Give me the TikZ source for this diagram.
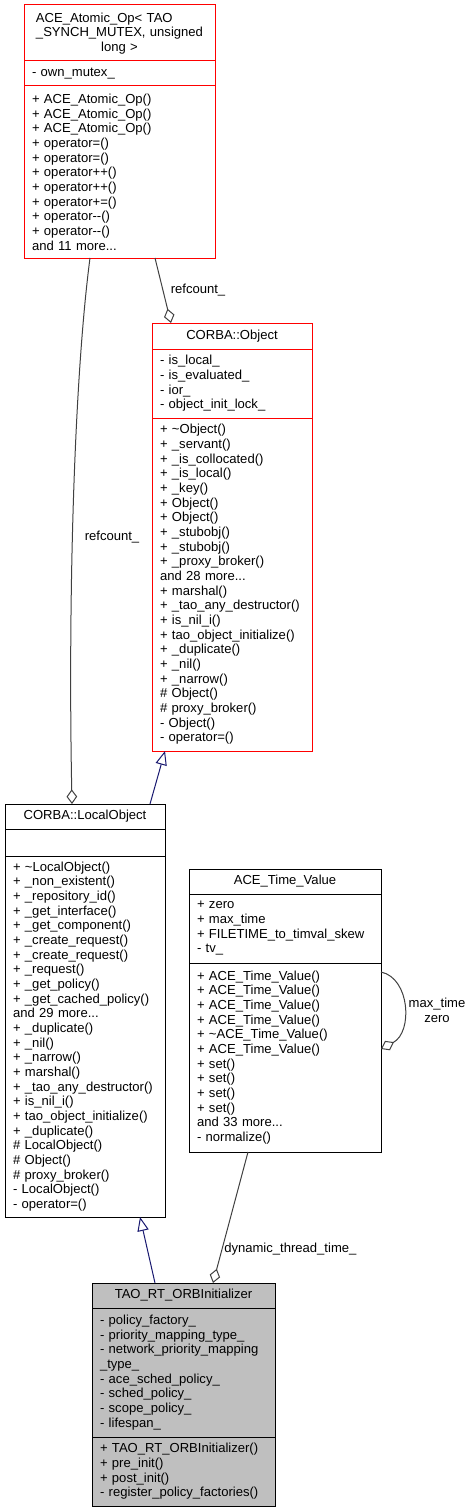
\documentclass[tikz,border=0pt]{standalone}
\usepackage{fontspec}
\setmainfont{Liberation Sans}
\usetikzlibrary{arrows.meta, positioning, calc}
\definecolor{umlRed}{HTML}{FF0000}
\definecolor{edgeGrey}{HTML}{404040}
\definecolor{inhBlue}{HTML}{191970}
\definecolor{focusGrey}{HTML}{BFBFBF}

\begin{document}
\begin{tikzpicture}[x=0.75pt, y=-0.75pt,
  part/.style={draw, line width=0.75pt, outer sep=0pt, inner xsep=6pt, inner ysep=0pt, font=\fontsize{9.8}{11}\selectfont},
  head/.style={part, anchor=north, align=center},
  members/.style={part, align=left},
  lbl/.style={inner sep=0pt, font=\fontsize{9.8}{11}\selectfont},
  aggr/.style={draw=edgeGrey, line width=0.75pt, -{Diamond[open, length=11pt, width=8pt]}},
  inh/.style={draw=inhBlue, line width=0.75pt, -{Triangle[open, length=10.5pt, width=8.5pt]}}]
\useasboundingbox (0,0) rectangle (472,1512);

% ACE_Atomic_Op
\node[head, draw=umlRed, text width=131.25pt, minimum height=42pt] (ato) at (119.5,5) {\begin{tabular}[b]{@{}l@{}}ACE\_Atomic\_Op< TAO\\ \_SYNCH\_MUTEX, unsigned\end{tabular}\\ long >};
\node[members, draw=umlRed, text width=131.25pt, minimum height=18.75pt, below=0pt of ato] (ato-a) {- own\_mutex\_};
\node[members, draw=umlRed, text width=131.25pt, minimum height=129pt, below=0pt of ato-a] (ato-m) {+ ACE\_Atomic\_Op()\\ + ACE\_Atomic\_Op()\\ + ACE\_Atomic\_Op()\\ + operator=()\\ + operator=()\\ + operator++()\\ + operator++()\\ + operator+=()\\ + operator-{}-()\\ + operator-{}-()\\ and 11 more...};

% CORBA::Object
\node[head, draw=umlRed, text width=108pt, minimum height=19.5pt] (obj) at (232,323) {CORBA::Object};
\node[members, draw=umlRed, text width=108pt, minimum height=51.75pt, below=0pt of obj] (obj-a) {- is\_local\_\\ - is\_evaluated\_\\ - ior\_\\ - object\_init\_lock\_};
\node[members, draw=umlRed, text width=108pt, minimum height=249.75pt, below=0pt of obj-a] (obj-m) {+ \textasciitilde{}Object()\\ + \_servant()\\ + \_is\_collocated()\\ + \_is\_local()\\ + \_key()\\ + Object()\\ + Object()\\ + \_stubobj()\\ + \_stubobj()\\ + \_proxy\_broker()\\ and 28 more...\\ + marshal()\\ + \_tao\_any\_destructor()\\ + is\_nil\_i()\\ + tao\_object\_initialize()\\ + \_duplicate()\\ + \_nil()\\ + \_narrow()\\ \# Object()\\ \# proxy\_broker()\\ - Object()\\ - operator=()};

% CORBA::LocalObject
\node[head, text width=108pt, minimum height=18.75pt] (loc) at (85,804) {CORBA::LocalObject};
\node[members, text width=108pt, minimum height=20.25pt, below=0pt of loc] (loc-a) {};
\node[members, text width=108pt, minimum height=270.75pt, below=0pt of loc-a] (loc-m) {+ \textasciitilde{}LocalObject()\\ + \_non\_existent()\\ + \_repository\_id()\\ + \_get\_interface()\\ + \_get\_component()\\ + \_create\_request()\\ + \_create\_request()\\ + \_request()\\ + \_get\_policy()\\ + \_get\_cached\_policy()\\ and 29 more...\\ + \_duplicate()\\ + \_nil()\\ + \_narrow()\\ + marshal()\\ + \_tao\_any\_destructor()\\ + is\_nil\_i()\\ + tao\_object\_initialize()\\ + \_duplicate()\\ \# LocalObject()\\ \# Object()\\ \# proxy\_broker()\\ - LocalObject()\\ - operator=()};

% ACE_Time_Value
\node[head, text width=132pt, minimum height=18.75pt] (tv) at (285,869) {ACE\_Time\_Value};
\node[members, text width=132pt, minimum height=51.75pt, below=0pt of tv] (tv-a) {+ zero\\ + max\_time\\ + FILETIME\_to\_timval\_skew\\ - tv\_};
\node[members, text width=132pt, minimum height=141.75pt, below=0pt of tv-a] (tv-m) {+ ACE\_Time\_Value()\\ + ACE\_Time\_Value()\\ + ACE\_Time\_Value()\\ + ACE\_Time\_Value()\\ + \textasciitilde{}ACE\_Time\_Value()\\ + ACE\_Time\_Value()\\ + set()\\ + set()\\ + set()\\ + set()\\ and 33 more...\\ - normalize()};

% TAO_RT_ORBInitializer
\node[head, fill=focusGrey, text width=125.25pt, minimum height=18.75pt] (tao) at (183.5,1283) {TAO\_RT\_ORBInitializer};
\node[members, fill=focusGrey, text width=125.25pt, minimum height=96.75pt, below=0pt of tao] (tao-a) {- policy\_factory\_\\ - priority\_mapping\_type\_\\ - network\_priority\_mapping\\ \_type\_\\ - ace\_sched\_policy\_\\ - sched\_policy\_\\ - scope\_policy\_\\ - lifespan\_};
\node[members, fill=focusGrey, text width=125.25pt, minimum height=51.75pt, below=0pt of tao-a] (tao-m) {+ TAO\_RT\_ORBInitializer()\\ + pre\_init()\\ + post\_init()\\ - register\_policy\_factories()};

% edges
\draw[aggr] ($(ato-m.south west)+(66,0)$) .. controls (74,380) and (68,600) .. ($(loc.north west)+(67,0)$);
\draw[aggr] ($(ato-m.south west)+(131,0)$) -- ($(obj.north west)+(19,0)$);
\draw[inh] ($(loc.north west)+(145,0)$) -- ($(obj-m.south west)+(13,0)$);
\draw[inh] ($(tao.north west)+(63,0)$) -- ($(loc-m.south west)+(135,0)$);
\draw[aggr] ($(tv-m.south west)+(59,0)$) -- ($(tao.north west)+(121,0)$);
\draw[aggr] ($(tv-m.north east)+(0,9)$) .. controls (410,978) and (413,1032) .. ($(tv-m.north east)+(0,86)$);

\node[lbl] (rc1) at (112,537) {refcount\_};
\node[lbl] (rc2) at (198,290) {refcount\_};
\node[lbl, anchor=west] (dtt) at (224,1249) {dynamic\_thread\_time\_};
\node[lbl, align=center] (mtz) at (437,1010) {max\_time\\ zero};
\end{tikzpicture}
\end{document}
